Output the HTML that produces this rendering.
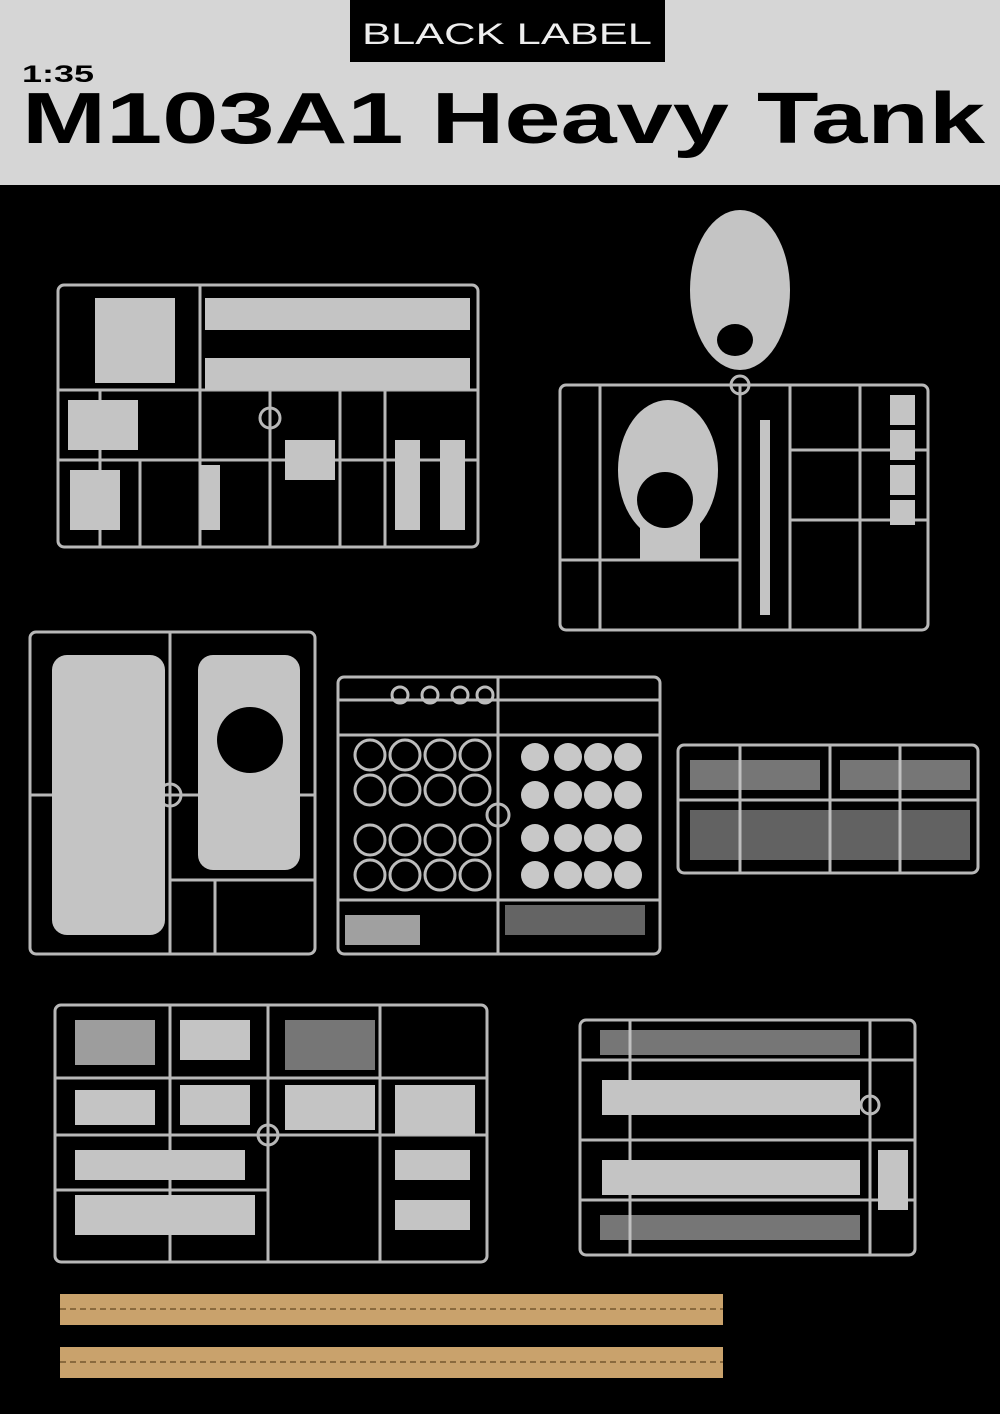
<!DOCTYPE html>
<html><head><meta charset="utf-8"><style>
html,body{margin:0;padding:0;background:#000;}
svg{display:block}
</style></head><body>
<svg width="1000" height="1414" viewBox="0 0 1000 1414" xmlns="http://www.w3.org/2000/svg" font-family="Liberation Sans, sans-serif">
<rect width="1000" height="1414" fill="#000"/>
<rect width="1000" height="185" fill="#d6d6d6"/>
<rect x="350" y="0" width="315" height="62" fill="#000"/>
<text x="507" y="44" text-anchor="middle" font-size="30" fill="#eee" textLength="290" lengthAdjust="spacingAndGlyphs">BLACK LABEL</text>
<text x="22" y="82" font-size="24" font-weight="bold" fill="#000" textLength="72" lengthAdjust="spacingAndGlyphs">1:35</text>
<text x="22" y="143" font-size="72" font-weight="bold" fill="#000" textLength="963" lengthAdjust="spacingAndGlyphs">M103A1 Heavy Tank</text>

<g fill="none" stroke="#b8b8b8" stroke-width="3">
<!-- sprue 1 -->
<rect x="58" y="285" width="420" height="262" rx="6"/>
<path d="M58 390H478M58 460H478M200 285V547M340 390V547M385 390V547M270 390V547M100 390V547M140 460V547"/>
<circle cx="270" cy="418" r="10"/>
<!-- sprue 2 -->
<rect x="560" y="385" width="368" height="245" rx="6"/>
<path d="M740 385V630M790 385V630M600 385V630M860 385V630M790 450H928M790 520H928M560 560H740"/>
<circle cx="740" cy="385" r="9"/>
<!-- sprue 3 -->
<rect x="30" y="632" width="285" height="322" rx="6"/>
<path d="M170 632V954M30 795H315M170 880H315M215 880V954"/>
<circle cx="170" cy="795" r="11"/>
<!-- sprue 4 -->
<rect x="338" y="677" width="322" height="277" rx="6"/>
<path d="M338 700H660M498 677V954M338 735H660M338 900H660"/>
<circle cx="498" cy="815" r="11"/>
<!-- sprue 5 -->
<rect x="678" y="745" width="300" height="128" rx="6"/>
<path d="M830 745V873M678 800H978M740 745V873M900 745V873"/>
<!-- sprue 6 -->
<rect x="55" y="1005" width="432" height="257" rx="6"/>
<path d="M268 1005V1262M55 1078H487M55 1135H487M170 1005V1262M380 1005V1262M55 1190H268"/>
<circle cx="268" cy="1135" r="10"/>
<!-- sprue 7 -->
<rect x="580" y="1020" width="335" height="235" rx="6"/>
<path d="M580 1060H915M580 1140H915M580 1200H915M870 1020V1255M630 1020V1255"/>
<circle cx="870" cy="1105" r="9"/>
</g>

<g fill="#c4c4c4">
<!-- sprue1 parts -->
<rect x="205" y="298" width="265" height="32"/>
<rect x="205" y="358" width="265" height="32"/>
<rect x="95" y="298" width="80" height="85"/>
<rect x="68" y="400" width="70" height="50"/>
<rect x="70" y="470" width="50" height="60"/>
<rect x="200" y="465" width="20" height="65"/>
<rect x="395" y="440" width="25" height="90"/>
<rect x="440" y="440" width="25" height="90"/>
<rect x="285" y="440" width="50" height="40"/>
<!-- turret -->
<ellipse cx="740" cy="290" rx="50" ry="80"/>
<ellipse cx="668" cy="470" rx="50" ry="70"/>
<rect x="640" y="520" width="60" height="40"/>
<rect x="760" y="420" width="10" height="195"/>
<rect x="890" y="395" width="25" height="30"/>
<rect x="890" y="430" width="25" height="30"/>
<rect x="890" y="465" width="25" height="30"/>
<rect x="890" y="500" width="25" height="25"/>
<!-- sprue 3 hulls -->
<rect x="52" y="655" width="113" height="280" rx="15"/>
<rect x="198" y="655" width="102" height="215" rx="15"/>
<!-- sprue 5 parts -->
<rect x="690" y="760" width="130" height="30" opacity=".6"/>
<rect x="840" y="760" width="130" height="30" opacity=".6"/>
<rect x="690" y="810" width="280" height="50" opacity=".5"/>
<!-- sprue 6 parts -->
<rect x="75" y="1020" width="80" height="45" opacity=".8"/>
<rect x="180" y="1020" width="70" height="40"/>
<rect x="180" y="1085" width="70" height="40"/>
<rect x="75" y="1090" width="80" height="35"/>
<rect x="285" y="1085" width="90" height="45"/>
<rect x="395" y="1085" width="80" height="50"/>
<rect x="75" y="1150" width="170" height="30"/>
<rect x="75" y="1195" width="180" height="40"/>
<rect x="395" y="1150" width="75" height="30"/>
<rect x="395" y="1200" width="75" height="30"/>
<rect x="285" y="1020" width="90" height="50" opacity=".6"/>
<!-- sprue 7 parts -->
<rect x="602" y="1080" width="258" height="35"/>
<rect x="602" y="1160" width="258" height="35"/>
<rect x="600" y="1030" width="260" height="25" opacity=".6"/>
<rect x="878" y="1150" width="30" height="60"/>
<rect x="600" y="1215" width="260" height="25" opacity=".6"/>
</g>
<g fill="#000">
<ellipse cx="735" cy="340" rx="18" ry="16"/>
<circle cx="665" cy="500" r="28"/>
<circle cx="250" cy="740" r="33"/>
</g>
<!-- wheels -->
<g fill="none" stroke="#bdbdbd" stroke-width="3">
<circle cx="370" cy="755" r="15"/><circle cx="405" cy="755" r="15"/><circle cx="440" cy="755" r="15"/><circle cx="475" cy="755" r="15"/>
<circle cx="370" cy="790" r="15"/><circle cx="405" cy="790" r="15"/><circle cx="440" cy="790" r="15"/><circle cx="475" cy="790" r="15"/>
<circle cx="370" cy="840" r="15"/><circle cx="405" cy="840" r="15"/><circle cx="440" cy="840" r="15"/><circle cx="475" cy="840" r="15"/>
<circle cx="370" cy="875" r="15"/><circle cx="405" cy="875" r="15"/><circle cx="440" cy="875" r="15"/><circle cx="475" cy="875" r="15"/>
<circle cx="400" cy="695" r="8"/><circle cx="430" cy="695" r="8"/><circle cx="460" cy="695" r="8"/><circle cx="485" cy="695" r="8"/>
</g>
<g fill="#c8c8c8">
<circle cx="535" cy="757" r="14"/><circle cx="568" cy="757" r="14"/><circle cx="598" cy="757" r="14"/><circle cx="628" cy="757" r="14"/>
<circle cx="535" cy="795" r="14"/><circle cx="568" cy="795" r="14"/><circle cx="598" cy="795" r="14"/><circle cx="628" cy="795" r="14"/>
<circle cx="535" cy="838" r="14"/><circle cx="568" cy="838" r="14"/><circle cx="598" cy="838" r="14"/><circle cx="628" cy="838" r="14"/>
<circle cx="535" cy="875" r="14"/><circle cx="568" cy="875" r="14"/><circle cx="598" cy="875" r="14"/><circle cx="628" cy="875" r="14"/>
<rect x="345" y="915" width="75" height="30" opacity=".8"/>
<rect x="505" y="905" width="140" height="30" opacity=".5"/>
</g>
<!-- tracks -->
<g fill="#c9a26c">
<rect x="60" y="1294" width="663" height="31"/>
<rect x="60" y="1347" width="663" height="31"/>
</g>
<g stroke="#8a6a3e" stroke-width="2" fill="none">
<path d="M60 1309H723M60 1362H723" stroke-dasharray="6 4"/>
</g>
</svg>
</body></html>
